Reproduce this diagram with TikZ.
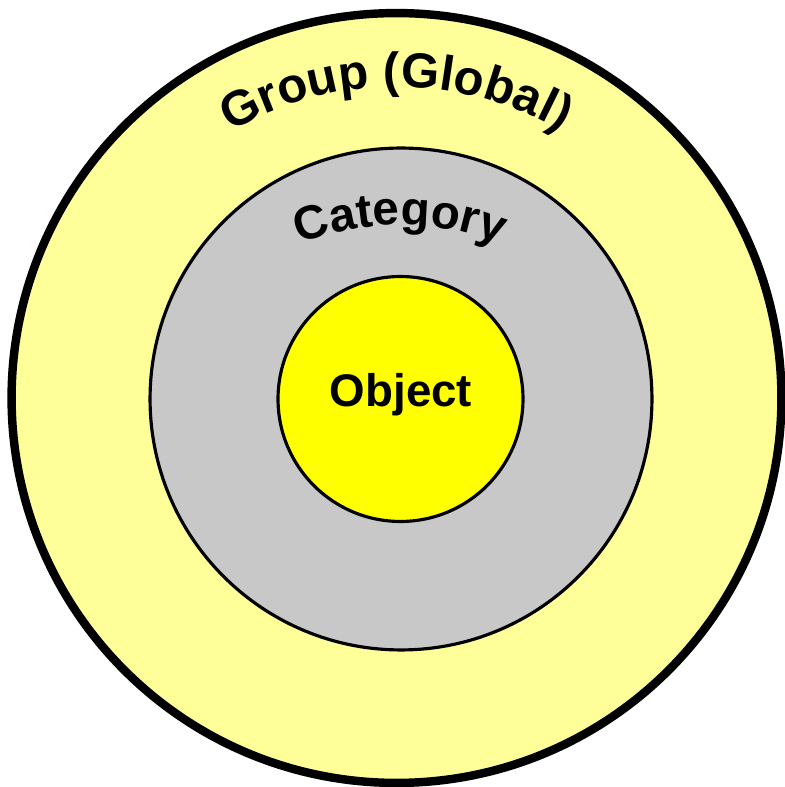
\documentclass[tikz,border=0pt]{standalone}
\usepackage{fontspec}
\setmainfont{Liberation Sans}
\usetikzlibrary{decorations.text}
\definecolor{grpyellow}{RGB}{255,255,153}
\definecolor{catgray}{RGB}{200,200,200}
\definecolor{objyellow}{RGB}{255,255,0}
\tikzstyle{ring} = [circle, draw=black, inner sep=0pt]
\tikzstyle{arclabel} = [decorate, decoration={text along path, text align=center}]

\begin{document}
\begin{tikzpicture}[x=0.02cm, y=0.02cm]
    \useasboundingbox (0,0) rectangle (784,787);

    % Group (Global)
    \node[ring, fill=grpyellow, line width=4.8pt, minimum size=15.4cm] (group) at (396.5,389) {};
    \coordinate (grparc) at (396,370);
    \path[arclabel, decoration={text={|\fontsize{28}{32}\selectfont\bfseries|Group (Global)}}]
        (grparc) ++(150:330) arc[start angle=150, end angle=30, radius=330];

    % Category
    \node[ring, fill=catgray, line width=1.8pt, minimum size=10.04cm] (category) at (401,388) {};
    \coordinate (catarc) at (400,290);
    \path[arclabel, decoration={text={|\fontsize{27}{32}\selectfont\bfseries|Category}}]
        (catarc) ++(150:272) arc[start angle=150, end angle=30, radius=272];

    % Object
    \node[ring, fill=objyellow, line width=1.8pt, minimum size=4.9cm] (object) at (400.5,388) {};
    \node[anchor=base, font=\fontsize{26}{30}\selectfont\bfseries] (objlabel) at (401,380) {Object};
\end{tikzpicture}
\end{document}
